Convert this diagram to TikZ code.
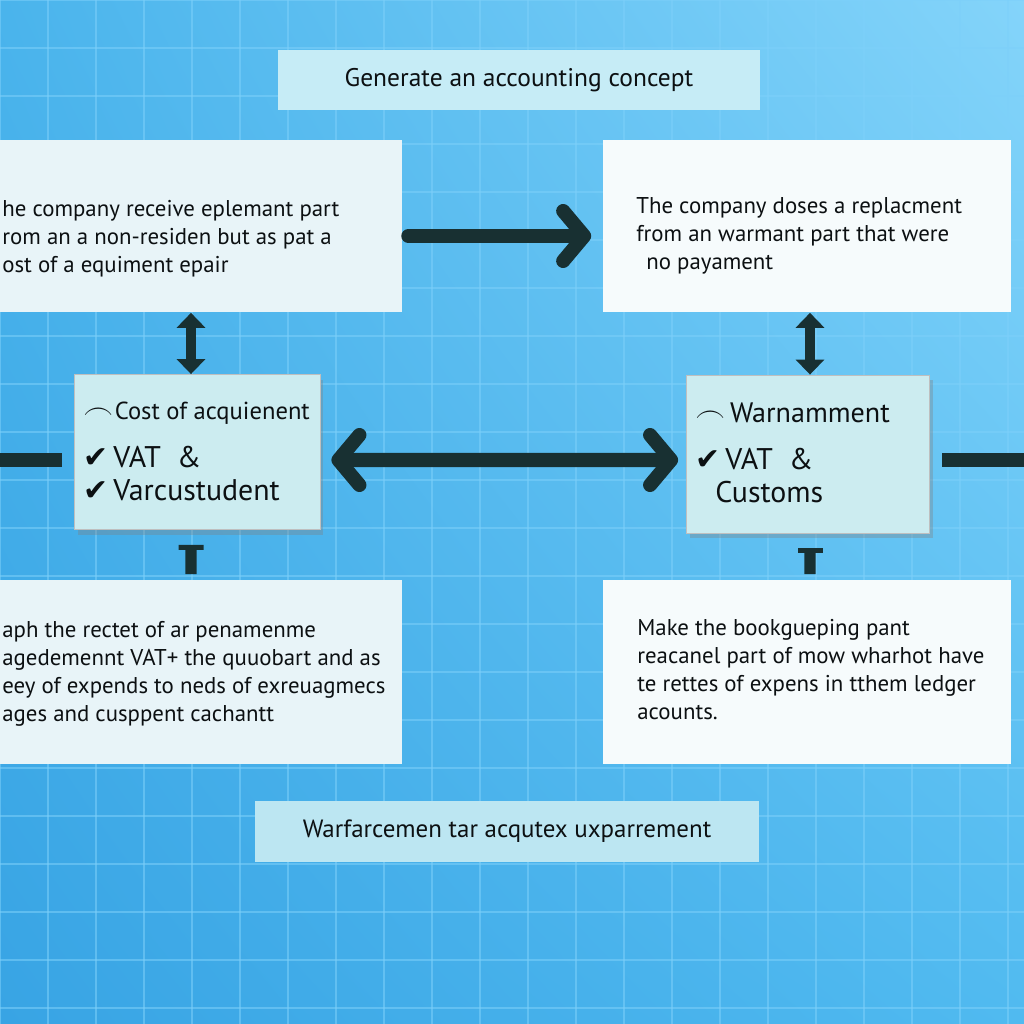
\documentclass[tikz,border=0pt]{standalone}
\usepackage{fontspec}
\setmainfont{PT Sans}
\newfontfamily\symfont{DejaVu Sans}
\usetikzlibrary{arrows.meta,shadows,shadings}

\definecolor{bgul}{RGB}{74,180,236}
\definecolor{bgur}{RGB}{132,212,250}
\definecolor{bgll}{RGB}{56,164,228}
\definecolor{bglr}{RGB}{80,186,240}
\definecolor{gridc}{RGB}{125,208,250}
\definecolor{arrowc}{RGB}{24,48,50}
\definecolor{txtc}{RGB}{12,16,18}
\definecolor{capfill}{RGB}{198,236,246}
\definecolor{footfill}{RGB}{188,230,242}
\definecolor{paperl}{RGB}{232,244,248}
\definecolor{paperr}{RGB}{246,251,252}
\definecolor{midfill}{RGB}{204,236,240}

\newcommand{\chk}{{\symfont\char"2714}}
\newcommand{\arc}{{\fontsize{16}{16}\selectfont$\frown$}}

\begin{document}
\begin{tikzpicture}[x=0.02cm,y=-0.02cm,
  panel/.style={inner sep=0pt, fill=paperl},
  caption/.style={inner sep=0pt, fill=capfill, minimum height=1.22cm, text=txtc, font=\fontsize{14.5}{16}\selectfont},
  midbox/.style={inner sep=0pt, fill=midfill, draw=black!25, line width=0.5pt,
    drop shadow={shadow xshift=2pt, shadow yshift=-3pt, opacity=0.35}},
  txt/.style={align=left, inner sep=0pt, text=txtc, font=\fontsize{13}{16}\selectfont},
  midtxt/.style={align=left, inner sep=0pt, text=txtc, font=\fontsize{17}{19}\selectfont},
  bigarrow/.style={arrowc, line width=8pt, line cap=round},
  duoarrow/.style={arrowc, line width=5.5pt, {Triangle[length=0.3cm,width=0.56cm]}-{Triangle[length=0.3cm,width=0.56cm]}},
  teearrow/.style={arrowc, line width=6.5pt, {Rectangle[length=0.1cm,width=0.5cm]}-}]

\useasboundingbox (0,0) rectangle (1024,1024);
\shade[upper left=bgul, upper right=bgur, lower left=bgll, lower right=bglr] (0,0) rectangle (1024,1024);
\foreach \g in {0,48,...,1024} {
  \draw[gridc, opacity=0.55, line width=0.6pt] (\g,0) -- (\g,1024);
  \draw[gridc, opacity=0.55, line width=0.6pt] (0,\g) -- (1024,\g);
}

% title and footer
\node[caption, minimum width=9.64cm] (title) at (519,80) {Generate an accounting concept};
\node[caption, minimum width=10.1cm, fill=footfill, font=\fontsize{14.2}{16}\selectfont] (footer) at (507,831) {Warfarcemen tar acqutex uxparrement};

% upper boxes
\node[panel, minimum width=8.24cm, minimum height=3.46cm] (recv) at (196,226) {};
\node[panel, fill=paperr, minimum width=8.18cm, minimum height=3.46cm] (repl) at (807,226) {};
\node[txt, anchor=north west] at (2,200) (recvtxt) {he company receive eplemant part\\
rom an a non-residen but as pat a\\ost of a equiment epair};
\node[txt, anchor=north west] at (636,197) (repltxt) {The company doses a replacment\\
from an warmant part that were\\\hspace{0.2cm}no payament};

% middle boxes
\node[midbox, minimum width=4.92cm, minimum height=3.1cm] (cost) at (197,452) {};
\node[midbox, minimum width=4.86cm, minimum height=3.16cm] (warr) at (808,454) {};
\node[midtxt, anchor=north west] at (83,402) (costtxt) {\arc\kern1pt{\fontsize{14}{17}\selectfont Cost of acquienent}\\[0.28cm]
\chk\,VAT\ \ \&\\\chk\,Varcustudent};
\node[midtxt, anchor=north west] at (695,402) (warrtxt) {\arc\,{\fontsize{16}{17}\selectfont Warnamment}\\[0.28cm]
\chk\,VAT\ \ \&\\\hspace{0.4cm}Customs};

% lower boxes
\node[panel, minimum width=8.24cm, minimum height=3.7cm] (graph) at (196,672) {};
\node[panel, fill=paperr, minimum width=8.18cm, minimum height=3.7cm] (book) at (807,672) {};
\node[txt, anchor=north west] at (2,621) (graphtxt) {aph the rectet of ar penamenme\\
agedemennt VAT+ the quuobart and as\\eey of expends to neds of exreuagmecs\\
ages and cusppent cachantt};
\node[txt, anchor=north west] at (637,619) (booktxt) {Make the bookgueping pant\\
reacanel part of mow wharhot have\\te rettes of expens in tthem ledger\\acounts.};

% connectors
\coordinate (leftend) at (0,460);
\coordinate (rightend) at (1024,460);
\draw[bigarrow, -{Straight Barb[length=0.42cm,width=1.0cm,round]}, shorten <=0.12cm, shorten >=0.22cm]
  ([yshift=-0.2cm]recv.east) -- ([yshift=-0.2cm]repl.west);
\draw[bigarrow, {Straight Barb[length=0.42cm,width=1.0cm,round]}-{Straight Barb[length=0.42cm,width=1.0cm,round]}, shorten <=0.22cm, shorten >=0.16cm]
  ([yshift=-0.16cm]cost.east) -- ([yshift=-0.12cm]warr.west);
\draw[bigarrow, line cap=butt, shorten >=0.24cm] (leftend) -- (leftend -| cost.west);
\draw[bigarrow, line cap=butt, shorten >=0.24cm] (rightend) -- (rightend -| warr.east);
\draw[duoarrow] ([xshift=-0.1cm]recv.south) -- ([xshift=-0.12cm]cost.north);
\draw[duoarrow] ([xshift=0.06cm]repl.south) -- ([xshift=0.04cm]warr.north);
\draw[teearrow, shorten <=0.3cm, shorten >=0.1cm] ([xshift=-0.12cm]cost.south) -- ([xshift=-0.1cm]graph.north);
\draw[teearrow, shorten <=0.3cm, shorten >=0.1cm] ([xshift=0.04cm]warr.south) -- ([xshift=0.06cm]book.north);
\end{tikzpicture}
\end{document}
